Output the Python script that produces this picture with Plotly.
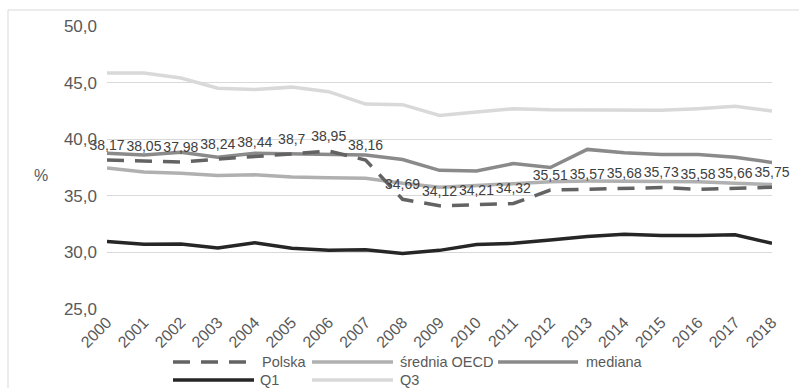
import plotly.graph_objects as go

years = [str(y) for y in range(2000, 2019)]
polska = [38.17, 38.05, 37.98, 38.24, 38.44, 38.7, 38.95, 38.16, 34.69, 34.12,
          34.21, 34.32, 35.51, 35.57, 35.68, 35.73, 35.58, 35.66, 35.75]
srednia = [37.45, 37.1, 37.0, 36.8, 36.85, 36.65, 36.6, 36.55, 36.1, 35.75,
           35.9, 36.1, 36.25, 36.3, 36.3, 36.3, 36.25, 36.1, 36.0]
mediana = [38.75, 38.6, 38.85, 38.4, 38.75, 38.7, 38.6, 38.6, 38.2, 37.25,
           37.2, 37.85, 37.5, 39.1, 38.8, 38.65, 38.65, 38.4, 37.95]
q1 = [30.97, 30.73, 30.75, 30.4, 30.86, 30.37, 30.18, 30.24, 29.9, 30.18,
      30.7, 30.8, 31.1, 31.4, 31.6, 31.5, 31.5, 31.55, 30.8]
q3 = [45.85, 45.85, 45.4, 44.5, 44.4, 44.6, 44.2, 43.1, 43.05, 42.1,
      42.4, 42.7, 42.6, 42.6, 42.55, 42.55, 42.7, 42.9, 42.5]
yticks = [25, 30, 35, 40, 45, 50]

FONT = "Liberation Sans"
L, R, T, B = 107, 27, 26, 79
W, H = 799, 388
PW, PH = W - L - R, H - T - B

def px(x):
    return (x - L) / PW

def py(y):
    return (H - B - y) / PH

c_pl, c_sr, c_me, c_q1, c_q3 = "#636363", "#b0b0b0", "#8a8a8a", "#262626", "#d9d9d9"

fig = go.Figure()
fig.add_trace(go.Scatter(x=years, y=srednia, name="średnia OECD", mode="lines",
                         line=dict(color=c_sr, width=3.5)))
fig.add_trace(go.Scatter(x=years, y=mediana, name="mediana", mode="lines",
                         line=dict(color=c_me, width=3.5)))
fig.add_trace(go.Scatter(x=years, y=q1, name="Q1", mode="lines",
                         line=dict(color=c_q1, width=3.5)))
fig.add_trace(go.Scatter(x=years, y=q3, name="Q3", mode="lines",
                         line=dict(color=c_q3, width=3.5)))
fig.add_trace(go.Scatter(x=years, y=polska, name="Polska", mode="lines+markers+text",
                         line=dict(color=c_pl, width=3.5, dash="17px,11px"),
                         marker=dict(size=9, opacity=0, color=c_pl),
                         text=[f"{v:g}".replace(".", ",") for v in polska],
                         textposition="top center",
                         textfont=dict(family=FONT, size=14, color="#404040"),
                         cliponaxis=False))

shapes = []
annotations = []
# chart border (left and top)
shapes.append(dict(type="line", xref="paper", yref="paper", x0=px(8), x1=px(805),
                   y0=py(10), y1=py(10), line=dict(color="#d9d9d9", width=1)))
shapes.append(dict(type="line", xref="paper", yref="paper", x0=px(8), x1=px(8),
                   y0=py(10), y1=py(395), line=dict(color="#d9d9d9", width=1)))

legend_items = [
    ("Polska", c_pl, "17px,11px", 173, 247, 260, 362),
    ("średnia OECD", c_sr, "solid", 312, 393, 398, 362),
    ("mediana", c_me, "solid", 498, 578, 584, 362),
    ("Q1", c_q1, "solid", 173, 254, 258, 380),
    ("Q3", c_q3, "solid", 312, 393, 398, 380),
]
for name, col, dash, x0, x1, tx, yy in legend_items:
    shapes.append(dict(type="line", xref="paper", yref="paper", x0=px(x0), x1=px(x1),
                       y0=py(yy), y1=py(yy), line=dict(color=col, width=3.5, dash=dash)))
    annotations.append(dict(xref="paper", yref="paper", x=px(tx), y=py(yy), text=name,
                            showarrow=False, xanchor="left", yanchor="middle",
                            font=dict(family=FONT, size=14.5, color="#595959")))

annotations.append(dict(xref="paper", yref="paper", x=px(41), y=py(175), text="%",
                        showarrow=False, xanchor="center", yanchor="middle",
                        font=dict(family=FONT, size=16, color="#595959")))

fig.update_layout(
    width=W, height=H,
    margin=dict(l=L, r=R, t=T, b=B, pad=0),
    paper_bgcolor="white", plot_bgcolor="white",
    separators=", ",
    showlegend=False,
    shapes=shapes, annotations=annotations,
    font=dict(family=FONT, color="#595959"),
    xaxis=dict(type="category", range=[0, 18], showgrid=False, showline=False,
               ticks="", tickangle=-45, tickfont=dict(family=FONT, size=16, color="#595959"),
               zeroline=False, fixedrange=True),
    yaxis=dict(range=[25, 50], tickvals=yticks, tickformat=".1f", showgrid=True,
               gridcolor="#d9d9d9", gridwidth=1, zeroline=False, showline=False,
               ticks="", ticklabelstandoff=9,
               tickfont=dict(family=FONT, size=17, color="#595959"), fixedrange=True),
)

fig.write_html("out.html", config={"displayModeBar": False})
